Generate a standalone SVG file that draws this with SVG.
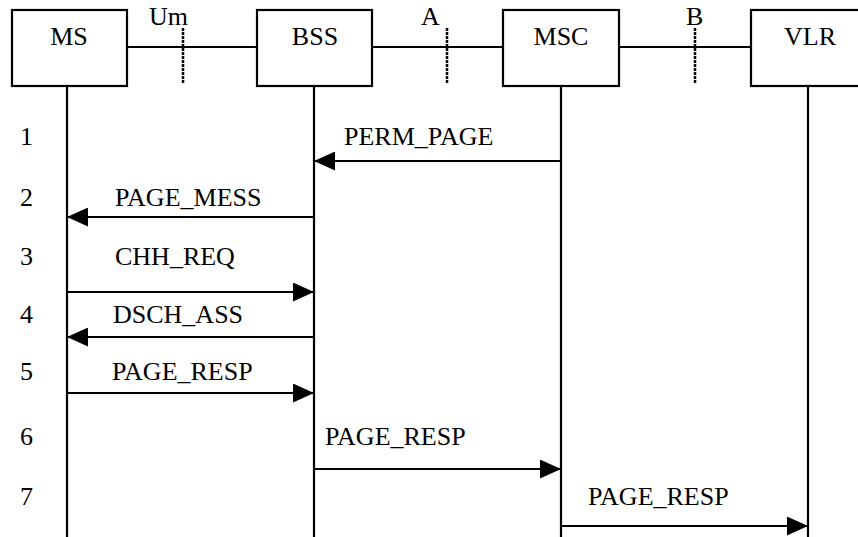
<svg xmlns="http://www.w3.org/2000/svg" width="858" height="537" viewBox="0 0 858 537">
<style>
text{font-family:"Liberation Serif","Times New Roman",serif;font-size:26px;fill:#000}
.box{fill:#fff;stroke:#000;stroke-width:2.2}
.life{stroke:#000;stroke-width:2.2;fill:none}
.link{stroke:#000;stroke-width:2}
.iface{stroke:#000;stroke-width:2.5;stroke-dasharray:3 1}
.msg{stroke:#000;stroke-width:2.2;fill:none}
.c{text-anchor:middle}
</style>
<defs>
<marker id="ah" viewBox="0 0 21 19" refX="21" refY="9.5" markerWidth="21" markerHeight="19" markerUnits="userSpaceOnUse" orient="auto">
<path d="M0,0 L21,9.5 L0,19 Z" fill="#000"/>
</marker>
</defs>
<g id="interfaces">
<line class="link" x1="127" y1="47" x2="257" y2="47"/>
<line class="link" x1="372" y1="47" x2="503" y2="47"/>
<line class="link" x1="619" y1="47" x2="751" y2="47"/>
<line class="iface" x1="183" y1="28" x2="183" y2="83"/>
<line class="iface" x1="447" y1="28" x2="447" y2="83"/>
<line class="iface" x1="695" y1="28" x2="695" y2="83"/>
<text x="149" y="25">Um</text>
<text x="421" y="25">A</text>
<text x="686" y="25">B</text>
</g>
<g id="MS">
<rect class="box" x="12" y="10" width="115" height="76"/>
<text class="c" x="69" y="45">MS</text>
<line class="life" x1="67" y1="86" x2="67" y2="537"/>
</g>
<g id="BSS">
<rect class="box" x="257" y="10" width="115" height="76"/>
<text class="c" x="315" y="45">BSS</text>
<line class="life" x1="314" y1="86" x2="314" y2="537"/>
</g>
<g id="MSC">
<rect class="box" x="503" y="10" width="116" height="76"/>
<text class="c" x="561" y="45">MSC</text>
<line class="life" x1="561" y1="86" x2="561" y2="537"/>
</g>
<g id="VLR">
<rect class="box" x="751" y="10" width="116" height="76"/>
<text class="c" x="810" y="45">VLR</text>
<line class="life" x1="808" y1="86" x2="808" y2="537"/>
</g>
<g id="steps">
<text x="20" y="145">1</text>
<text x="20" y="206">2</text>
<text x="20" y="265">3</text>
<text x="20" y="323">4</text>
<text x="20" y="380">5</text>
<text x="20" y="445">6</text>
<text x="20" y="505">7</text>
</g>
<g id="connectors">
<line class="msg" x1="561" y1="161" x2="314" y2="161" marker-end="url(#ah)"/>
<text x="344" y="145">PERM_PAGE</text>
<line class="msg" x1="314" y1="217" x2="67" y2="217" marker-end="url(#ah)"/>
<text x="115" y="206">PAGE_MESS</text>
<line class="msg" x1="67" y1="292" x2="314" y2="292" marker-end="url(#ah)"/>
<text x="115" y="265">CHH_REQ</text>
<line class="msg" x1="314" y1="337" x2="67" y2="337" marker-end="url(#ah)"/>
<text x="113" y="323">DSCH_ASS</text>
<line class="msg" x1="67" y1="393" x2="314" y2="393" marker-end="url(#ah)"/>
<text x="112" y="380">PAGE_RESP</text>
<line class="msg" x1="314" y1="469" x2="561" y2="469" marker-end="url(#ah)"/>
<text x="325" y="445">PAGE_RESP</text>
<line class="msg" x1="561" y1="526" x2="808" y2="526" marker-end="url(#ah)"/>
<text x="588" y="505">PAGE_RESP</text>
</g>
</svg>
